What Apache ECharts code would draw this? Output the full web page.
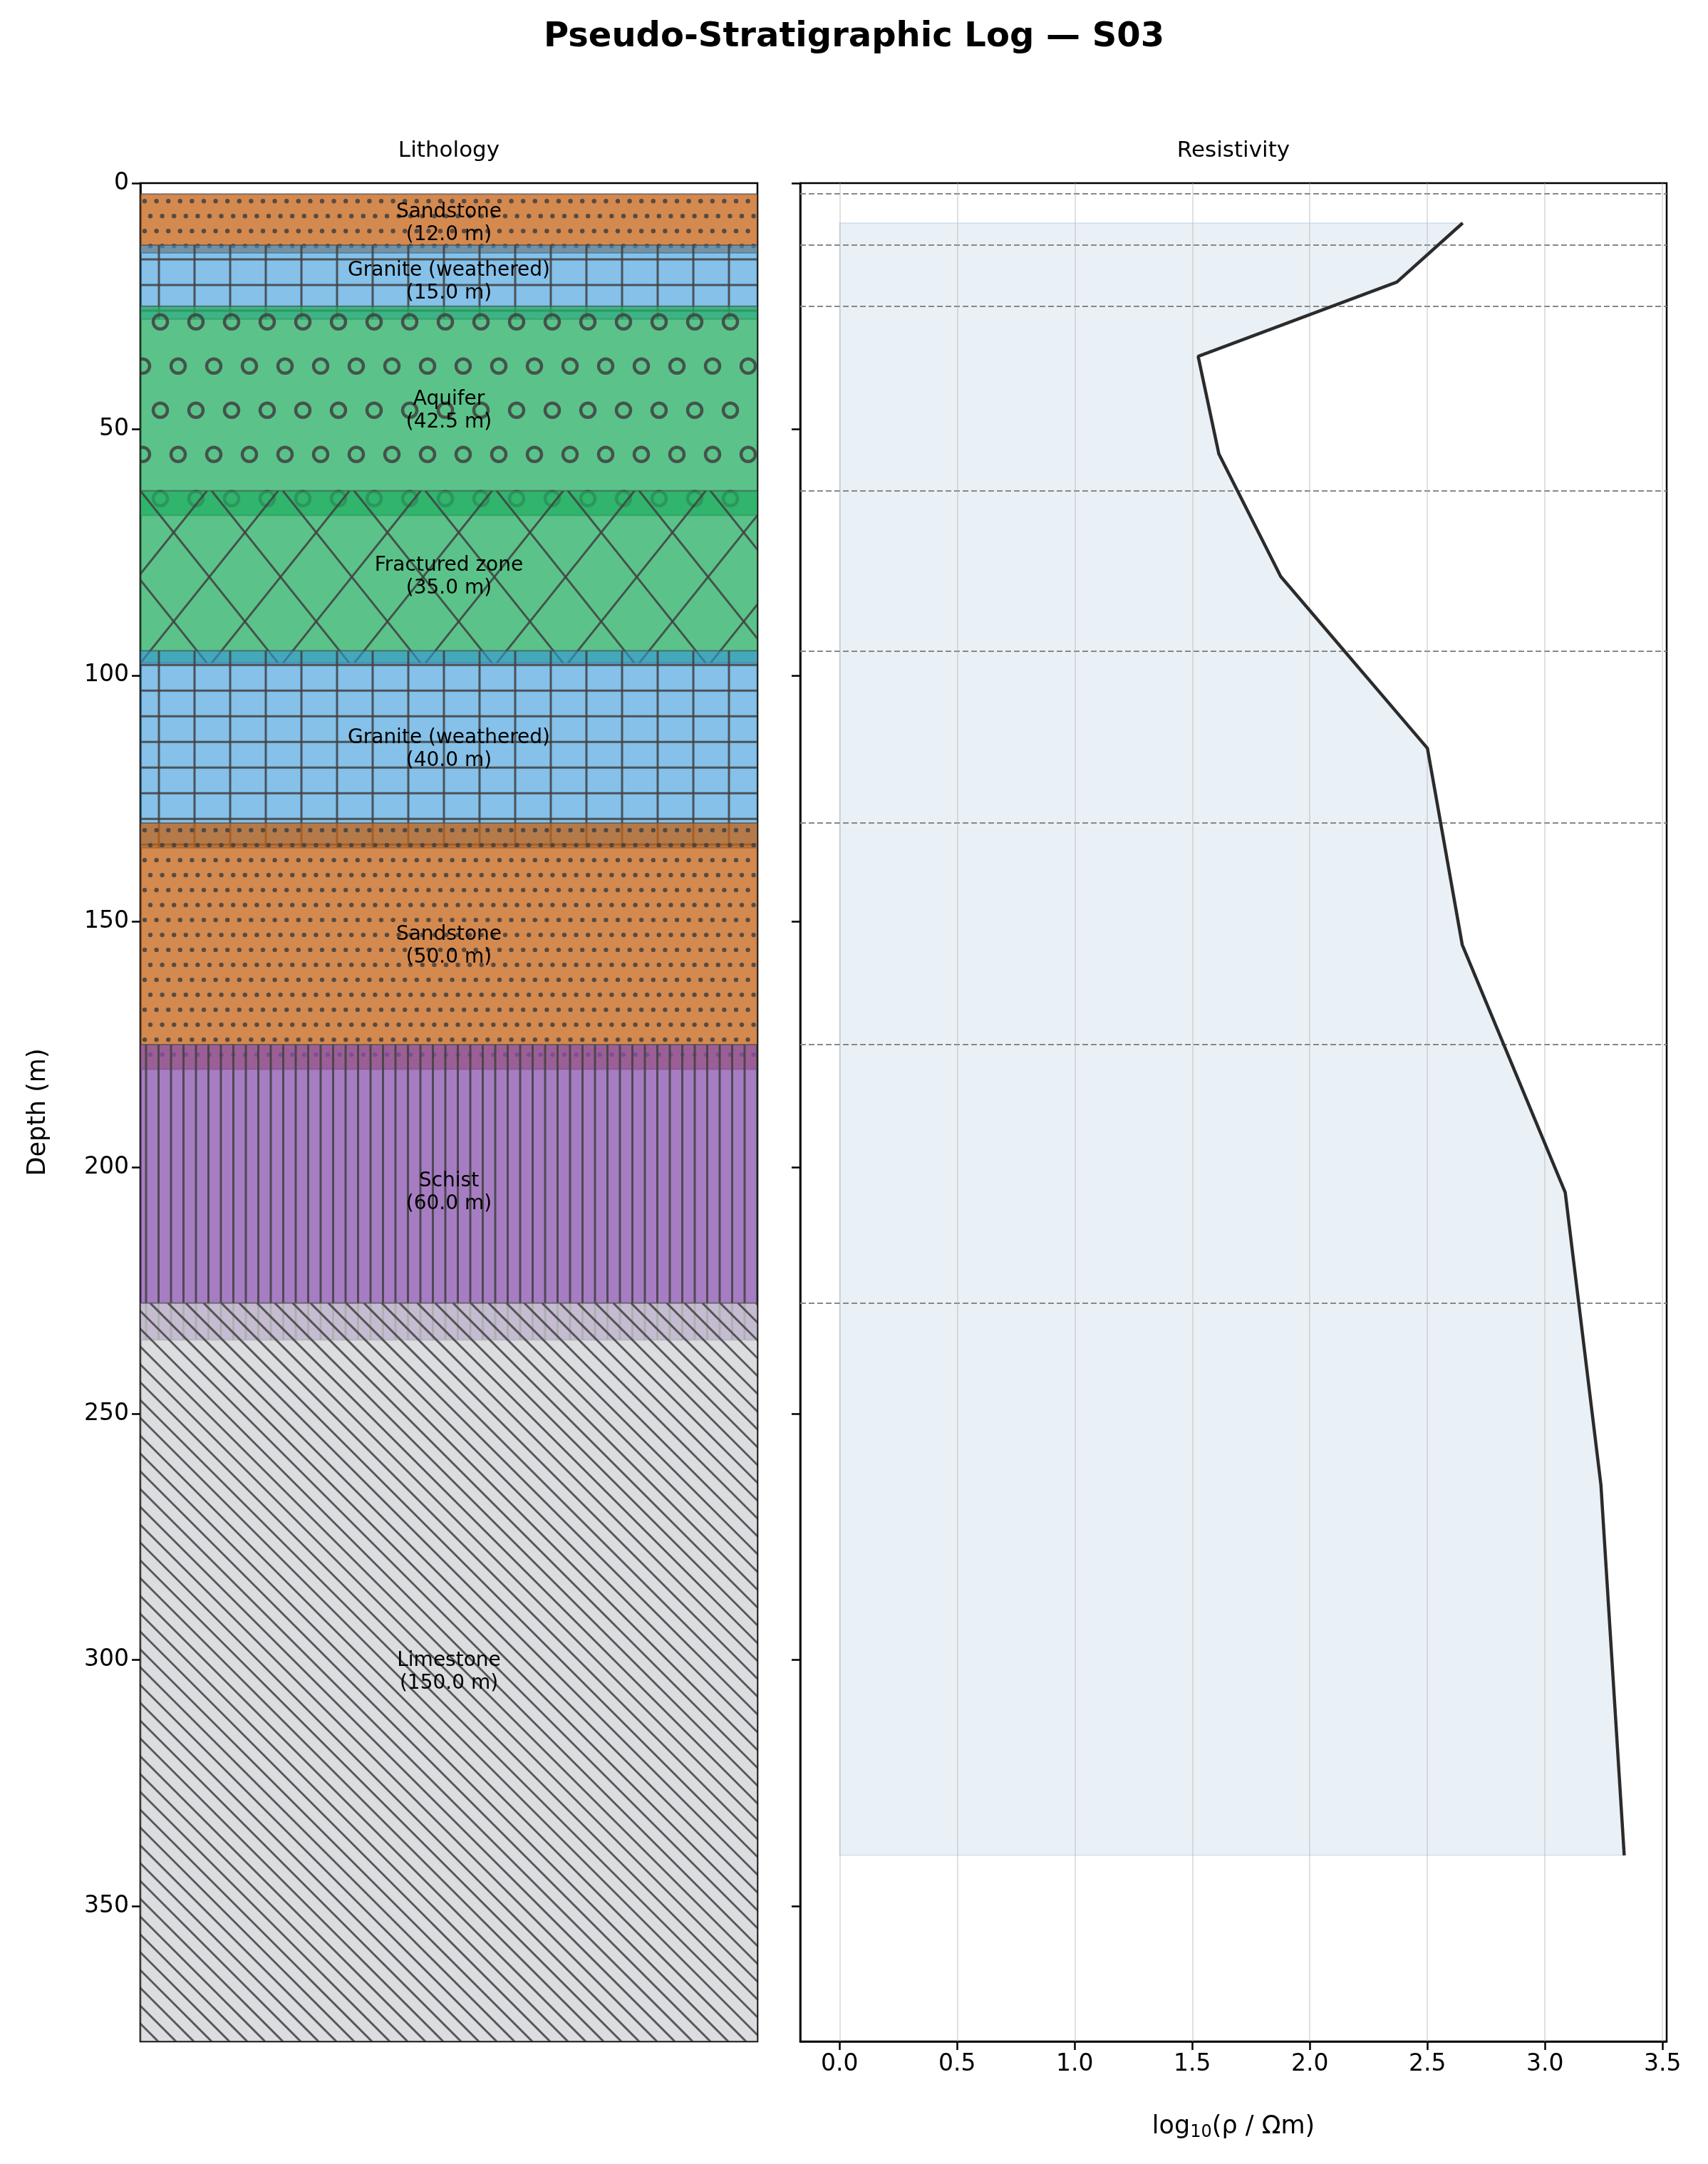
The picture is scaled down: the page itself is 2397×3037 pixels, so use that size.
<!DOCTYPE html>
<html><head><meta charset="utf-8">
<script src="https://cdn.jsdelivr.net/npm/echarts@6/dist/echarts.min.js"></script>
<style>html,body{margin:0;padding:0;background:#fff}#c{width:2397px;height:3037px}</style>
</head><body><div id="c"></div>
<script>
const layerNames = ['Sandstone','Granite (weathered)','Aquifer','Fractured zone','Granite (weathered)','Sandstone','Schist','Limestone'];
const layerTops = [2.2,12.6,25,62.5,95,130,175,227.5];
const layerThick = [12.0,15.0,42.5,35.0,40.0,50.0,60.0,150.0];
const layerPattern = ['dots','grid','circles','cross','grid','dots','vlines','diag'];
const resDepth = [8.1,20.1,35.2,55.0,79.9,114.8,154.7,205.0,264.5,339.7];
const resLog = [2.65,2.37,1.525,1.613,1.876,2.50,2.648,3.086,3.238,3.337];
const xTicks = [0,0.5,1,1.5,2,2.5,3,3.5];
const yTicks = [0,50,100,150,200,250,300,350];

const fills = {
  'Sandstone':'rgba(198,98,20,0.75)',
  'Granite (weathered)':'rgba(52,152,219,0.6)',
  'Aquifer':'rgba(36,175,99,0.75)',
  'Fractured zone':'rgba(36,175,99,0.75)',
  'Schist':'rgba(136,82,174,0.75)',
  'Limestone':'rgba(208,210,214,0.75)'
};
const HC = 'rgba(65,65,65,0.85)';
const F = 'DejaVu Sans';

function pattern(kind, x0, y0, w, h){
  const els = [];
  const ln = (a,b,c,d)=>els.push({type:'line',shape:{x1:a,y1:b,x2:c,y2:d},style:{stroke:HC,lineWidth:3}});
  if(kind==='dots'){
    let r=0;
    for(let y=y0+10;y<y0+h;y+=21,r++){
      for(let x=x0+((r%2)?8:0)+6;x<x0+w;x+=16.6) els.push({type:'circle',shape:{cx:x,cy:y,r:3.2},style:{fill:HC}});
    }
  } else if(kind==='grid'){
    for(let x=x0+26;x<x0+w;x+=50) ln(x,y0,x,y0+h);
    for(let y=y0+20;y<y0+h;y+=36) ln(x0,y,x0+w,y);
  } else if(kind==='circles'){
    let r=0;
    for(let y=y0+22;y<y0+h;y+=62,r++){
      for(let x=x0+((r%2)?3:28);x<x0+w;x+=50) els.push({type:'circle',shape:{cx:x,cy:y,r:10},style:{fill:'none',stroke:HC,lineWidth:4.5}});
    }
  } else if(kind==='cross'){
    const sx=100, sy=125;
    for(let k=-Math.ceil(h/sx)-2;k<Math.ceil(w/sx)+2;k++){
      const bx=x0+k*sx;
      ln(bx,y0,bx+h*sx/sy,y0+h);
      ln(bx,y0+h,bx+h*sx/sy,y0);
    }
  } else if(kind==='vlines'){
    for(let x=x0+8;x<x0+w;x+=17.5) ln(x,y0,x,y0+h);
  } else if(kind==='diag'){
    for(let x=x0-h;x<x0+w;x+=25) ln(x,y0,x+h,y0+h);
  }
  return els;
}

const layerData = layerNames.map((n,i)=>[i]);
const chart = echarts.init(document.getElementById('c'));
chart.setOption({
  animation:false,
  title:{text:'Pseudo-Stratigraphic Log — S03',left:'center',top:24,textStyle:{fontFamily:F,fontSize:48,fontWeight:'bold',color:'#000'}},
  graphic:[
    {type:'text',x:630,y:196,style:{text:'Lithology',font:'31px DejaVu Sans',fill:'#000',textAlign:'center'}},
    {type:'text',x:1731,y:196,style:{text:'Resistivity',font:'31px DejaVu Sans',fill:'#000',textAlign:'center'}}
  ],
  grid:[
    {left:197,width:866,top:257,height:2608,show:true,borderColor:'#000',borderWidth:2.5,backgroundColor:'transparent'},
    {left:1123,width:1216,top:257,height:2608,show:true,borderColor:'#000',borderWidth:2.5,backgroundColor:'transparent'}
  ],
  xAxis:[
    {gridIndex:0,type:'value',min:0,max:1,show:false},
    {gridIndex:1,type:'value',min:-0.1675,max:3.5175,
     axisLine:{show:true,onZero:false,lineStyle:{color:'#000',width:2.5}},
     axisTick:{customValues:xTicks,length:12,lineStyle:{color:'#000',width:2.5}},
     axisLabel:{customValues:xTicks,formatter:v=>v.toFixed(1),fontFamily:F,fontSize:33,color:'#000',margin:16},
     splitLine:{show:false},
     name:'log{s|10}(ρ / Ωm)',nameLocation:'middle',nameGap:100,
     nameTextStyle:{fontFamily:F,fontSize:35,color:'#000',rich:{s:{fontSize:24,fontFamily:F,verticalAlign:'bottom',padding:[16,0,0,0]}}}}
  ],
  yAxis:[
    {gridIndex:0,type:'value',inverse:true,min:0,max:377.5,interval:50,
     axisLine:{show:true,onZero:false,lineStyle:{color:'#000',width:2.5}},
     axisTick:{customValues:yTicks,length:12,lineStyle:{color:'#000',width:2.5}},
     axisLabel:{customValues:yTicks,fontFamily:F,fontSize:33,color:'#000',margin:16},
     splitLine:{show:false},
     name:'Depth (m)',nameLocation:'middle',nameGap:126,nameRotate:90,nameTextStyle:{fontFamily:F,fontSize:35,color:'#000'}},
    {gridIndex:1,type:'value',inverse:true,min:0,max:377.5,interval:50,
     axisLine:{show:true,onZero:false,lineStyle:{color:'#000',width:2.5}},
     axisTick:{customValues:yTicks,length:12,lineStyle:{color:'#000',width:2.5}},
     axisLabel:{show:false},splitLine:{show:false}}
  ],
  series:[
    {type:'custom',xAxisIndex:0,yAxisIndex:0,data:layerData,clip:true,z:2,
     renderItem:function(params,api){
       const i=api.value(0);
       const p0=api.coord([0,layerTops[i]]);
       const p1=api.coord([1,Math.min(layerTops[i]+layerThick[i],377.5)]);
       const x0=p0[0],y0=p0[1],w=p1[0]-p0[0],h=p1[1]-p0[1];
       const pc=api.coord([0.5,layerTops[i]+layerThick[i]/2]);
       return {type:'group',children:[
         {type:'rect',shape:{x:x0,y:y0,width:w,height:h},style:{fill:fills[layerNames[i]],stroke:'rgba(70,70,70,0.6)',lineWidth:2}},
         {type:'group',clipPath:{type:'rect',shape:{x:x0,y:y0,width:w,height:h}},children:pattern(layerPattern[i],x0,y0,w,h)},
         {type:'text',x:pc[0],y:pc[1],z2:10,style:{text:layerNames[i]+'\n('+layerThick[i].toFixed(1)+' m)',font:'28px DejaVu Sans',fill:'#000',align:'center',verticalAlign:'middle',lineHeight:32}}
       ]};
     }},
    {type:'custom',xAxisIndex:1,yAxisIndex:1,data:[[0]],z:1,
     renderItem:function(params,api){
       const pts=[api.coord([0,resDepth[0]])];
       resDepth.forEach((d,i)=>pts.push(api.coord([resLog[i],d])));
       pts.push(api.coord([0,resDepth[resDepth.length-1]]));
       return {type:'polygon',shape:{points:pts},style:{fill:'rgba(70,130,180,0.12)',stroke:'rgba(70,130,180,0.15)',lineWidth:2}};
     }},
    {type:'line',xAxisIndex:1,yAxisIndex:1,data:resDepth.map((d,i)=>[resLog[i],d]),symbol:'none',z:5,
     lineStyle:{color:'#2b2b2b',width:4.5},
     markLine:{silent:true,symbol:'none',label:{show:false},
       data:[].concat(
         layerTops.map(t=>({yAxis:t,lineStyle:{color:'#888',type:[8,4],width:2}})),
         xTicks.map(v=>({xAxis:v,lineStyle:{color:'rgba(180,180,180,0.4)',type:'solid',width:2}}))
       )}}
  ]
});
</script></body></html>
